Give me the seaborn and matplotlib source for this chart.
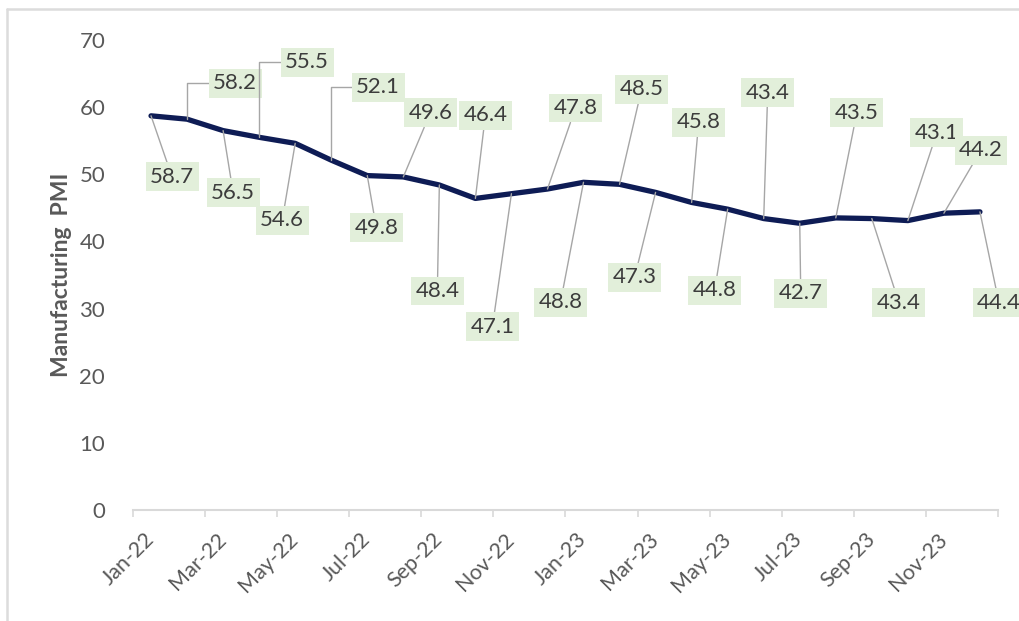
import matplotlib
matplotlib.use("Agg")
import matplotlib.pyplot as plt
from matplotlib.lines import Line2D
import numpy as np
import pandas as pd
import seaborn as sns

# Monthly manufacturing PMI, Jan-22 .. Dec-23
months = ["Jan-22", "Feb-22", "Mar-22", "Apr-22", "May-22", "Jun-22",
          "Jul-22", "Aug-22", "Sep-22", "Oct-22", "Nov-22", "Dec-22",
          "Jan-23", "Feb-23", "Mar-23", "Apr-23", "May-23", "Jun-23",
          "Jul-23", "Aug-23", "Sep-23", "Oct-23", "Nov-23", "Dec-23"]
pmi = [58.7, 58.2, 56.5, 55.5, 54.6, 52.1,
       49.8, 49.6, 48.4, 46.4, 47.1, 47.8,
       48.8, 48.5, 47.3, 45.8, 44.8, 43.4,
       42.7, 43.5, 43.4, 43.1, 44.2, 44.4]
y_ticks = [0, 10, 20, 30, 40, 50, 60, 70]

# Data-label placement (offset in pixels from each point: right, down)
label_offsets = [(21, 61), (48, -36), (10, 62), (48, -75), (-13, 77), (47, -73),
                 (9, 52), (27, -64), (-2, 106), (10, -83), (-19, 133), (28, -81),
                 (-23, 120), (22, -95), (-21, 85), (7, -80), (-13, 81), (4, -126),
                 (1, 70), (21, -105), (27, 84), (29, -88), (37, -63), (19, 91)]
elbow_labels = {1, 3, 5}

sns.set_theme(style="white")
plt.rcParams["font.family"] = ["Lato", "DejaVu Sans"]

df = pd.DataFrame({"pos": np.arange(len(months)), "month": months, "pmi": pmi})

fig = plt.figure(figsize=(10.2, 6.21), dpi=100)
ax = fig.add_axes([0.1304, 0.1787, 0.848, 0.757])

sns.lineplot(data=df, x="pos", y="pmi", ax=ax, color="#0e1c55", linewidth=3.8,
             solid_capstyle="round", solid_joinstyle="round", zorder=3)

text_color = "#3c3c3c"
for i, (v, (dx, dy)) in enumerate(zip(df["pmi"], label_offsets)):
    arrow = dict(arrowstyle="-", color="#a6a6a6", lw=1.0, shrinkA=0, shrinkB=0)
    if i in elbow_labels:
        arrow.update(connectionstyle="angle,angleA=0,angleB=90,rad=0",
                     relpos=(0.0, 0.5))
    ax.annotate(f"{v:.1f}", xy=(df["pos"][i], v), xytext=(dx, -dy),
                textcoords="offset pixels", ha="center", va="center",
                fontsize=16, color=text_color, zorder=4,
                bbox=dict(boxstyle="square,pad=0.2", fc="#e2efda", ec="none"),
                arrowprops=arrow)

ax.set_xlim(-0.5, len(months) - 0.5)
ax.set_ylim(0, 70)
ax.set_yticks(y_ticks)
ax.set_yticklabels([str(t) for t in y_ticks], fontsize=16, color="#595959")

ax.set_xticks(df["pos"][::2])
ax.set_xticklabels(df["month"][::2], rotation=45, ha="right", va="center",
                   rotation_mode="anchor", fontsize=15.5, color="#595959")
ax.set_xticks(np.arange(-0.5, len(months), 2), minor=True)
ax.tick_params(axis="x", which="major", length=0, pad=19)
ax.tick_params(axis="x", which="minor", length=5, width=1.2, color="#d9d9d9",
               direction="out", bottom=True)
ax.tick_params(axis="y", length=0, pad=20)

for side in ["left", "top", "right"]:
    ax.spines[side].set_visible(False)
ax.spines["bottom"].set_color("#d9d9d9")
ax.spines["bottom"].set_linewidth(1.5)

ax.set_xlabel("")
ax.set_ylabel("Manufacturing  PMI", fontsize=16.5, fontweight="bold", color="#595959")
ax.yaxis.set_label_coords(-0.07, 0.5)

# light outer frame of the chart area
fx, fy = 7 / 1020, 1 - 9 / 621
fig.add_artist(Line2D([fx, 1.0], [fy, fy], transform=fig.transFigure,
                      color="#dcdcdc", lw=1.8))
fig.add_artist(Line2D([fx, fx], [0.0, fy], transform=fig.transFigure,
                      color="#dcdcdc", lw=1.8))

fig.savefig("out.png", dpi=100, facecolor="white")
